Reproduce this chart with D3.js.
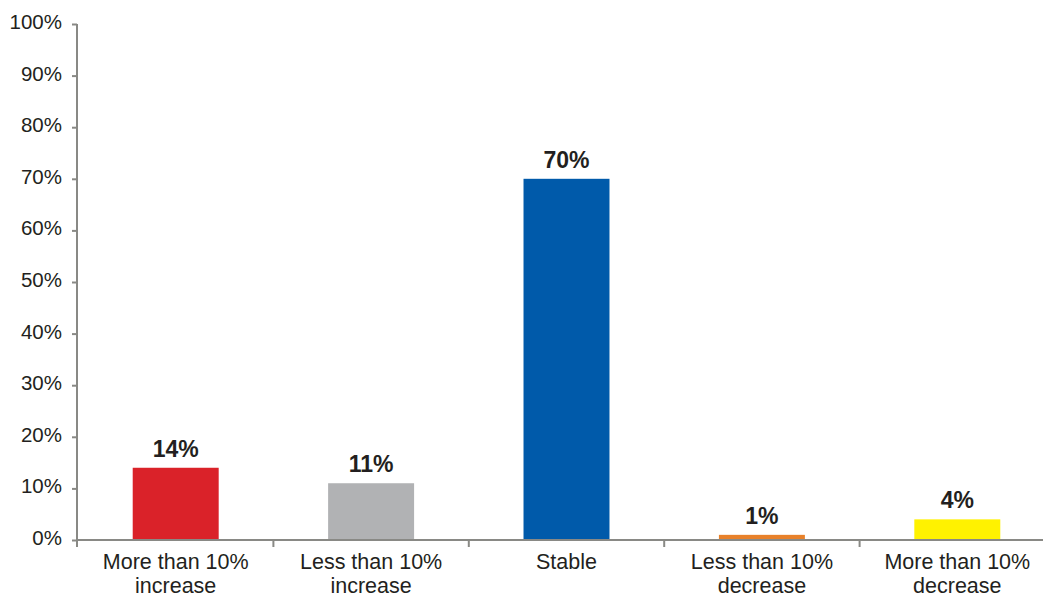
<!DOCTYPE html>
<html>
<head>
<meta charset="utf-8">
<script src="https://cdn.jsdelivr.net/npm/d3@7"></script>
<style>
  html, body { margin: 0; padding: 0; background: #ffffff; }
  svg { display: block; }
  text { font-family: "Liberation Sans", Arial, Helvetica, sans-serif; fill: #231f20; }
</style>
</head>
<body>
<svg id="chart" width="1043" height="597"></svg>
<script>
// Survey categories (two-line labels) and their shares in percent
const categories = ["More than 10%|increase", "Less than 10%|increase", "Stable", "Less than 10%|decrease", "More than 10%|decrease"];
const values = [14, 11, 70, 1, 4];
const colors = ["#da2229", "#b1b2b4", "#005aaa", "#e8812a", "#fff200"];
const yTicks = [0, 10, 20, 30, 40, 50, 60, 70, 80, 90, 100];

const svg = d3.select("#chart");
const axisColor = "#898985";

const x = d3.scaleBand()
  .domain(categories)
  .range([77, 1054])
  .paddingInner(0.56)
  .paddingOuter(0.28);

const y = d3.scaleLinear()
  .domain([0, 100])
  .range([540, 24]);

// Bars
svg.append("g")
  .selectAll("rect")
  .data(categories)
  .join("rect")
  .attr("x", d => x(d) + 1)
  .attr("width", x.bandwidth())
  .attr("y", (d, i) => y(values[i]))
  .attr("height", (d, i) => y(0) - y(values[i]))
  .attr("fill", (d, i) => colors[i]);

// Value labels above bars
svg.append("g")
  .selectAll("text")
  .data(categories)
  .join("text")
  .attr("x", d => x(d) + x.bandwidth() / 2 + 1)
  .attr("y", (d, i) => y(values[i]) - 11)
  .attr("text-anchor", "middle")
  .attr("font-size", "23px")
  .attr("font-weight", "bold")
  .text((d, i) => values[i] + "%");

// Y axis
const yAxis = svg.append("g")
  .attr("transform", "translate(77,0)")
  .call(d3.axisLeft(y).tickValues(yTicks).tickSize(5).tickPadding(10).tickFormat(d => d + "%"));
yAxis.select(".domain").remove();
yAxis.selectAll(".tick line").attr("stroke", axisColor).attr("stroke-width", 2);
yAxis.selectAll(".tick text")
  .attr("font-size", "20.5px")
  .attr("font-family", "Liberation Sans, Arial, sans-serif")
  .attr("fill", "#231f20")
  .attr("dy", "0.22em");

// Y axis line
svg.append("line")
  .attr("x1", 77).attr("x2", 77)
  .attr("y1", y(100)).attr("y2", y(0) + 7)
  .attr("stroke", axisColor).attr("stroke-width", 2);

// X axis baseline
svg.append("line")
  .attr("x1", 77).attr("x2", 1054)
  .attr("y1", y(0)).attr("y2", y(0))
  .attr("stroke", axisColor).attr("stroke-width", 2);

// Category separator ticks
const step = x.step();
const bounds = categories.map((d, i) => x.range()[0] + x.paddingOuter() * step - x.paddingInner() * step / 2 + i * step);
svg.append("g")
  .selectAll("line")
  .data(bounds.slice(1))
  .join("line")
  .attr("x1", d => d + 1).attr("x2", d => d + 1)
  .attr("y1", y(0)).attr("y2", y(0) + 7)
  .attr("stroke", axisColor).attr("stroke-width", 2);

// Category labels
const labels = svg.append("g")
  .selectAll("text")
  .data(categories)
  .join("text")
  .attr("x", d => x(d) + x.bandwidth() / 2 + 1)
  .attr("y", 569)
  .attr("text-anchor", "middle")
  .attr("font-size", "21.5px");
labels.each(function(d) {
  const parts = d.split("|");
  const t = d3.select(this);
  parts.forEach((p, j) => {
    t.append("tspan")
      .attr("x", t.attr("x"))
      .attr("dy", j === 0 ? 0 : 24)
      .text(p);
  });
});
</script>
</body>
</html>
